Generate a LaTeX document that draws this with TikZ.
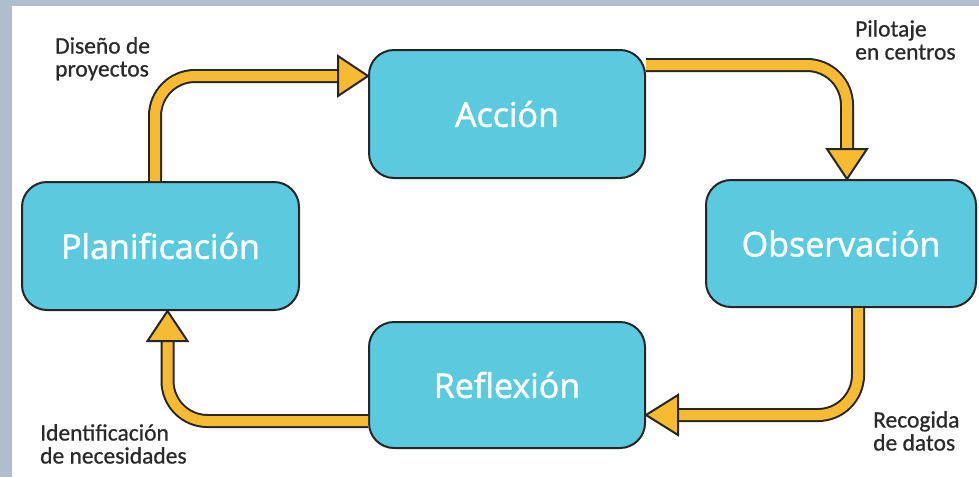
\documentclass[tikz,border=0pt]{standalone}
\usepackage{fontspec}
\setmainfont{Carlito}[FakeBold=0.7]
\newfontfamily\boxfont{Open Sans}[FakeBold=1.5]
\definecolor{stripe}{HTML}{AFBDCC}
\definecolor{boxfill}{HTML}{5BC9DE}
\definecolor{boxline}{HTML}{262626}
\definecolor{arrowfill}{HTML}{F7BB32}
\definecolor{labeltext}{HTML}{2A2A2A}
\tikzset{
  stage/.style={draw=boxline, fill=boxfill, line width=2pt, rounded corners=25pt,
    text=white, font=\boxfont\fontsize{34}{38}\selectfont, inner sep=0pt},
  shaft/.style={draw=arrowfill, line width=10pt, rounded corners=40pt,
    preaction={draw=boxline, line width=14pt}},
  headtri/.style={fill=arrowfill, draw=boxline, line width=2pt, line join=miter},
  lab/.style={text=labeltext, font=\fontsize{23.5}{23}\selectfont, align=left, inner sep=0pt}
}
\begin{document}
\begin{tikzpicture}[x=1pt, y=-1pt]
\useasboundingbox (0,0) rectangle (979,477);
\fill[white] (0,0) rectangle (979,477);
\fill[stripe] (0,0) rectangle (979,6);
\fill[stripe] (0,0) rectangle (12,477);

\node[stage, minimum width=276pt, minimum height=128pt] (acc) at (507,114) {Acción};
\node[stage, minimum width=277pt, minimum height=128pt] (plan) at (160.5,246) {Planificación};
\node[stage, minimum width=270pt, minimum height=127pt] (obs) at (841,243.5) {Observación};
\node[stage, minimum width=276pt, minimum height=126pt] (ref) at (507,385) {Reflexión};

% Planificacion -> Accion
\draw[shaft] ([xshift=-5.5pt]plan.north) |- ([xshift=-30pt,yshift=38pt]acc.west);
\draw[headtri] ([yshift=38pt]acc.west) -- ++(-30,-20) -- ++(0,40) -- cycle;
% Accion -> Observacion
\draw[shaft] ([yshift=49pt]acc.east) -| ([xshift=6pt,yshift=30pt]obs.north);
\draw[headtri] ([xshift=6pt]obs.north) -- ++(-20,-30) -- ++(40,0) -- cycle;
% Observacion -> Reflexion
\draw[shaft] ([xshift=17pt]obs.south) |- ([xshift=32pt,yshift=-30pt]ref.east);
\draw[headtri] ([yshift=-30pt]ref.east) -- ++(32,-20) -- ++(0,40) -- cycle;
% Reflexion -> Planificacion
\draw[shaft] ([yshift=-36pt]ref.west) -| ([xshift=7pt,yshift=-30pt]plan.south);
\draw[headtri] ([xshift=7pt]plan.south) -- ++(-20,30) -- ++(40,0) -- cycle;

\node[lab, anchor=north west] (l1) at (55,37) {Diseño de\\proyectos};
\node[lab, anchor=north west] (l2) at (855,20) {Pilotaje\\en centros};
\node[lab, anchor=north west] (l3) at (40,424) {Identificación\\de necesidades};
\node[lab, anchor=north west] (l4) at (873,411) {Recogida\\de datos};
\end{tikzpicture}
\end{document}
